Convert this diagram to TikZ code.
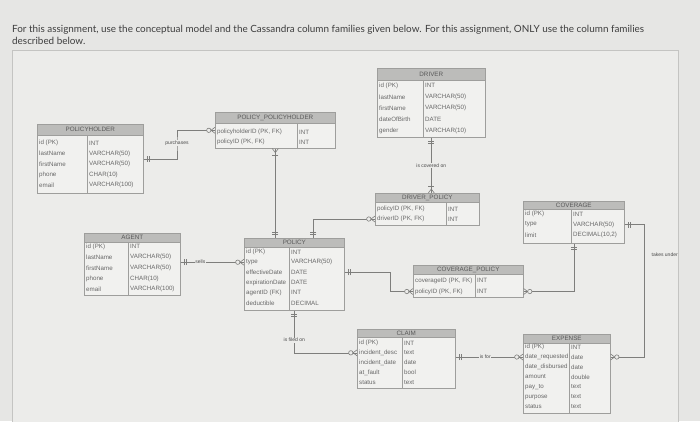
\documentclass[tikz,border=0pt]{standalone}
\usepackage{fontspec}
\setmainfont{Lato}
\newfontfamily\diafont{Liberation Sans}
\usetikzlibrary{decorations.markings}
\definecolor{page-bg}{HTML}{E6E6E4}
\definecolor{panel-bg}{HTML}{ECECEA}
\definecolor{panel-line}{HTML}{C4C4C2}
\definecolor{table-bg}{HTML}{F1F1EF}
\definecolor{header-gray}{HTML}{BCBCBA}
\definecolor{frame-gray}{HTML}{9E9E9C}
\definecolor{text-gray}{HTML}{686868}
\definecolor{link-gray}{HTML}{7E7E7C}
\definecolor{title-gray}{HTML}{3E3E3E}

\tikzset{
  tbl/.style={draw=frame-gray, fill=table-bg, line width=0.6pt, anchor=north west, inner sep=0pt},
  hdrbox/.style={fill=header-gray, draw=frame-gray, line width=0.6pt},
  hdr/.style={font=\diafont\fontsize{6.3}{7}\selectfont, text=text-gray!85!black, inner sep=0pt},
  cell/.style={font=\diafont\fontsize{6.2}{7}\selectfont, text=text-gray, anchor=west, inner sep=0pt},
  colline/.style={draw=frame-gray, line width=0.5pt},
  conn/.style={draw=link-gray, line width=0.6pt},
  lbl/.style={font=\diafont\fontsize{5}{5.5}\selectfont, text=text-gray!70!black, fill=panel-bg, inner sep=0.7pt},
  barbar/.style={postaction={decorate, decoration={markings,
      mark=at position 3.5pt with {\draw[conn] (0,-3pt) -- (0,3pt);},
      mark=at position 6pt with {\draw[conn] (0,-3pt) -- (0,3pt);}}}},
  zeromany/.style={postaction={decorate, decoration={markings,
      mark=at position -6.2pt with {\draw[conn, fill=panel-bg] (0,0) circle (2.2pt);},
      mark=at position -4pt with {\draw[conn] (4pt,3pt) -- (0,0) -- (4pt,-3pt);}}}},
  onemany/.style={postaction={decorate, decoration={markings,
      mark=at position -6.5pt with {\draw[conn] (0,-3pt) -- (0,3pt);},
      mark=at position -4pt with {\draw[conn] (4pt,3pt) -- (0,0) -- (4pt,-3pt);}}}}
}

\begin{document}
\begin{tikzpicture}[x=1pt, y=-1pt]
  \useasboundingbox (0,0) rectangle (700,421);
  \fill[page-bg] (0,0) rectangle (700,421);
  \draw[panel-line, fill=panel-bg] (12,50) rectangle (678,440);

  % assignment text
  \node[anchor=base west, inner sep=0, font=\fontsize{9.9}{11}\selectfont, text=title-gray] (title1) at (12,32)
    {For this assignment, use the conceptual model and the Cassandra column families given below. For this assignment, ONLY use the column families};
  \node[anchor=base west, inner sep=0, font=\fontsize{9.9}{11}\selectfont, text=title-gray] (title2) at (12,44)
    {described below.};

  % POLICYHOLDER
  \node[tbl, minimum width=106pt, minimum height=69pt] (policyholder) at (37,124) {};
  \path[hdrbox] (policyholder.north west) rectangle ([yshift=-11pt]policyholder.north east);
  \node[hdr] (policyholder-h) at ([yshift=-5.5pt]policyholder.north) {POLICYHOLDER};
  \draw[colline] (87,135) -- (87,193);
  \foreach \a/\b [count=\i] in {id (PK)/INT, lastName/VARCHAR(50), firstName/VARCHAR(50), phone/CHAR(10), email/VARCHAR(100)}{
    \node[cell] (ph\i) at (39,132.5+10.5*\i) {\a};
    \node[cell] (ph\i-t) at (89,132.5+10.5*\i) {\b};
  }

  % POLICY_POLICYHOLDER
  \node[tbl, minimum width=120pt, minimum height=36pt] (polph) at (215,112) {};
  \path[hdrbox] (polph.north west) rectangle ([yshift=-11pt]polph.north east);
  \node[hdr] (polph-h) at ([yshift=-5.5pt]polph.north) {POLICY\_POLICYHOLDER};
  \draw[colline] (297,123) -- (297,148);
  \foreach \a/\b [count=\i] in {policyholderID (PK{,} FK)/INT, policyID (PK{,} FK)/INT}{
    \node[cell] (pp\i) at (217,122+10*\i) {\a};
    \node[cell] (pp\i-t) at (299,122+10*\i) {\b};
  }

  % DRIVER
  \node[tbl, minimum width=108pt, minimum height=69pt] (driver) at (377,68) {};
  \path[hdrbox] (driver.north west) rectangle ([yshift=-12pt]driver.north east);
  \node[hdr] (driver-h) at ([yshift=-6pt]driver.north) {DRIVER};
  \draw[colline] (423,80) -- (423,137);
  \foreach \a/\b [count=\i] in {id (PK)/INT, lastName/VARCHAR(50), firstName/VARCHAR(50), dateOfBirth/DATE, gender/VARCHAR(10)}{
    \node[cell] (dr\i) at (379,74.1+11.4*\i) {\a};
    \node[cell] (dr\i-t) at (425,74.1+11.4*\i) {\b};
  }

  % AGENT
  \node[tbl, minimum width=96pt, minimum height=62pt] (agent) at (84,233) {};
  \path[hdrbox] (agent.north west) rectangle ([yshift=-9pt]agent.north east);
  \node[hdr] (agent-h) at ([yshift=-4.5pt]agent.north) {AGENT};
  \draw[colline] (128,242) -- (128,295);
  \foreach \a/\b [count=\i] in {id (PK)/INT, lastName/VARCHAR(50), firstName/VARCHAR(50), phone/CHAR(10), email/VARCHAR(100)}{
    \node[cell] (ag\i) at (86,235.8+10.7*\i) {\a};
    \node[cell] (ag\i-t) at (130,235.8+10.7*\i) {\b};
  }

  % POLICY
  \node[tbl, minimum width=100pt, minimum height=72pt] (policy) at (244,238) {};
  \path[hdrbox] (policy.north west) rectangle ([yshift=-9pt]policy.north east);
  \node[hdr] (policy-h) at ([yshift=-4.5pt]policy.north) {POLICY};
  \draw[colline] (289,247) -- (289,310);
  \foreach \a/\b [count=\i] in {id (PK)/INT, type/VARCHAR(50), effectiveDate/DATE, expirationDate/DATE, agentID (FK)/INT, deductible/DECIMAL}{
    \node[cell] (po\i) at (246,241.8+10.2*\i) {\a};
    \node[cell] (po\i-t) at (291,241.8+10.2*\i) {\b};
  }

  % DRIVER_POLICY
  \node[tbl, minimum width=104pt, minimum height=32pt] (dripol) at (375,193) {};
  \path[hdrbox] (dripol.north west) rectangle ([yshift=-9pt]dripol.north east);
  \node[hdr] (dripol-h) at ([yshift=-4.5pt]dripol.north) {DRIVER\_POLICY};
  \draw[colline] (446,202) -- (446,225);
  \foreach \a/\b [count=\i] in {policyID (PK{,} FK)/INT, driverID (PK{,} FK)/INT}{
    \node[cell] (dp\i) at (377,199+10*\i) {\a};
    \node[cell] (dp\i-t) at (448,199+10*\i) {\b};
  }

  % COVERAGE
  \node[tbl, minimum width=101pt, minimum height=42pt] (coverage) at (523,201) {};
  \path[hdrbox] (coverage.north west) rectangle ([yshift=-8pt]coverage.north east);
  \node[hdr] (coverage-h) at ([yshift=-4pt]coverage.north) {COVERAGE};
  \draw[colline] (571,209) -- (571,243);
  \foreach \a/\b [count=\i] in {id (PK)/INT, type/VARCHAR(50), limit/DECIMAL(10{,}2)}{
    \node[cell] (cv\i) at (525,203.5+10.5*\i) {\a};
    \node[cell] (cv\i-t) at (573,203.5+10.5*\i) {\b};
  }

  % COVERAGE_POLICY
  \node[tbl, minimum width=110pt, minimum height=32pt] (covpol) at (413,265) {};
  \path[hdrbox] (covpol.north west) rectangle ([yshift=-9pt]covpol.north east);
  \node[hdr] (covpol-h) at ([yshift=-4.5pt]covpol.north) {COVERAGE\_POLICY};
  \draw[colline] (475,274) -- (475,297);
  \foreach \a/\b [count=\i] in {coverageID (PK{,} FK)/INT, policyID (PK{,} FK)/INT}{
    \node[cell] (cp\i) at (415,269.5+11*\i) {\a};
    \node[cell] (cp\i-t) at (477,269.5+11*\i) {\b};
  }

  % CLAIM
  \node[tbl, minimum width=98pt, minimum height=59pt] (claim) at (357,329) {};
  \path[hdrbox] (claim.north west) rectangle ([yshift=-8pt]claim.north east);
  \node[hdr] (claim-h) at ([yshift=-4pt]claim.north) {CLAIM};
  \draw[colline] (402,337) -- (402,388);
  \foreach \a/\b [count=\i] in {id (PK)/INT, incident\_desc/text, incident\_date/date, at\_fault/bool, status/text}{
    \node[cell] (cl\i) at (359,333.2+9.8*\i) {\a};
    \node[cell] (cl\i-t) at (404,333.2+9.8*\i) {\b};
  }

  % EXPENSE
  \node[tbl, minimum width=87pt, minimum height=79pt] (expense) at (523,334) {};
  \path[hdrbox] (expense.north west) rectangle ([yshift=-9pt]expense.north east);
  \node[hdr] (expense-h) at ([yshift=-4.5pt]expense.north) {EXPENSE};
  \draw[colline] (569,343) -- (569,413);
  \foreach \a/\b [count=\i] in {id (PK)/INT, date\_requested/date, date\_disbursed/date, amount/double, pay\_to/text, purpose/text, status/text}{
    \node[cell] (ex\i) at (525,337+10*\i) {\a};
    \node[cell] (ex\i-t) at (571,337+10*\i) {\b};
  }

  % relationships
  \coordinate (purch) at (177,143);
  \draw[conn, barbar, zeromany] (policyholder.east) -| (purch) node[lbl] (purch-l) {purchases} |- (polph.west);
  \draw[conn, barbar, zeromany] (agent.east |- po2) -- node[lbl, pos=0.31] (sells-l) {sells} (policy.west |- po2);
  \draw[conn, barbar, onemany] (polph.south |- policy.north) -- (polph.south);
  \draw[conn, barbar, zeromany] ([xshift=19pt]policy.north) |- (dripol.west |- dp2);
  \draw[conn, barbar, onemany] (driver.south) -- node[lbl] (covered-l) {is covered on} (driver.south |- dripol.north);
  \draw[conn, barbar, zeromany] (policy.east |- po3) -- ++(46,0) |- (covpol.west |- cp2);
  \draw[conn, barbar, zeromany] (coverage.south) |- (covpol.east |- cp2);
  \draw[conn, barbar, zeromany] (policy.south) |- node[lbl, pos=0.35] (filed-l) {is filed on} (claim.west |- cl2);
  \draw[conn, barbar, zeromany] (claim.east |- ex2) -- node[lbl, pos=0.44] (isfor-l) {is for} (expense.east |- ex2 -| expense.west);
  \draw[conn, barbar, zeromany] (coverage.east |- cv2) -- ++(20,0) |- node[lbl, pos=0.115, anchor=west, xshift=6pt] (takes-l) {takes under} (expense.east |- ex2);
\end{tikzpicture}
\end{document}
